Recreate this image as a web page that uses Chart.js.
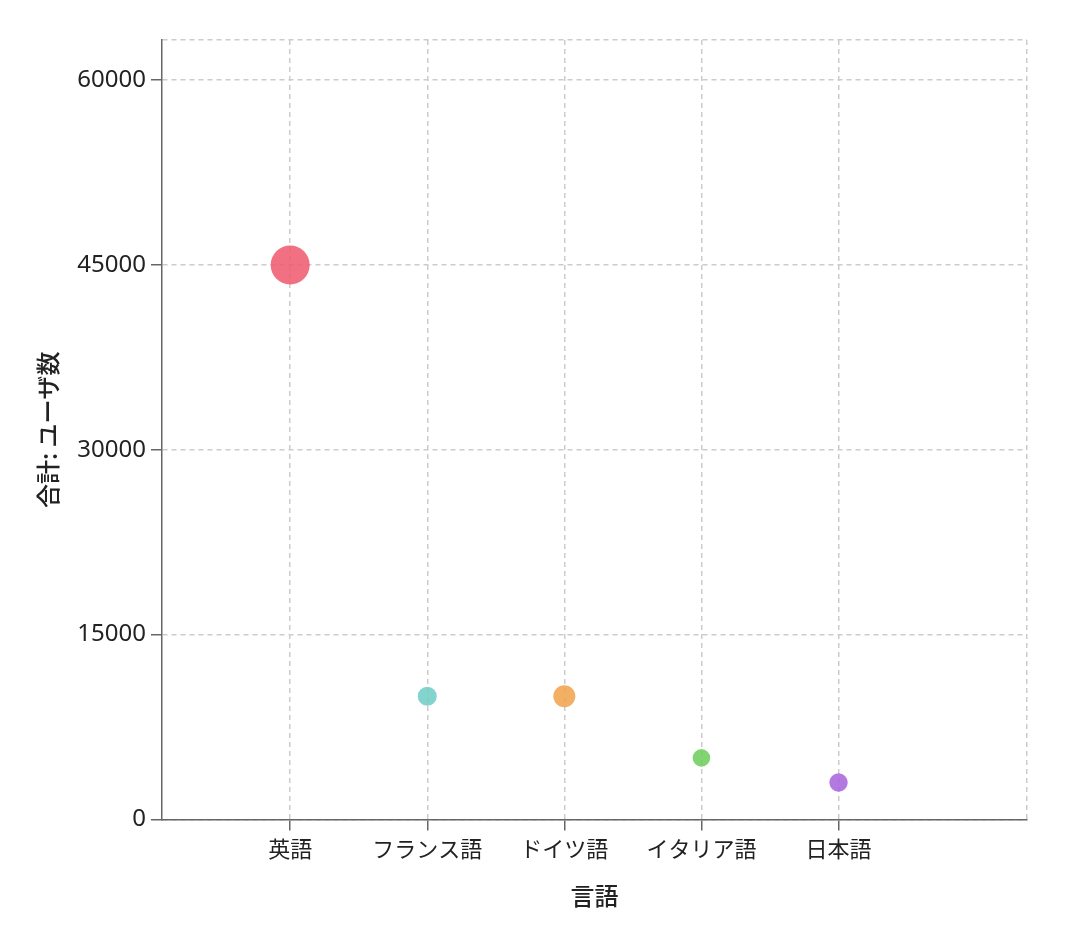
<!DOCTYPE html>
<html>
<head>
<meta charset="utf-8">
<script src="https://cdn.jsdelivr.net/npm/chart.js@4"></script>
<style>
  body { margin: 0; background: #fff; }
  #wrap { width: 1088px; height: 942px; }
</style>
</head>
<body>
<div id="wrap"><canvas id="myChart"></canvas></div>
<script>
// categories and values
const languages = ['英語', 'フランス語', 'ドイツ語', 'イタリア語', '日本語'];
const userTotals = [45000, 10000, 10000, 5000, 3000];
const bubbleRadius = [19.5, 9.5, 11, 8.8, 9.2];
const bubbleColors = [
    'rgba(238, 88, 108, 0.85)',
    'rgba(108, 205, 196, 0.85)',
    'rgba(241, 161, 73, 0.85)',
    'rgba(108, 205, 90, 0.85)',
    'rgba(167, 96, 220, 0.85)'
];
const yTicks = [0, 15000, 30000, 45000, 60000];
const yMax = 63250;
const xMin = 0.065;
const xMax = 6.375;

const cjk = '"Noto Sans CJK JP", "Noto Sans", sans-serif';
const xTickFont = { family: cjk, size: 22 };
const yTickFont = { family: '"Noto Sans", sans-serif', size: 24 };
const titleFont = { family: cjk, size: 24, weight: '500' };

const points = languages.map((name, i) => ({ x: i + 1, y: userTotals[i], r: bubbleRadius[i] }));

const ctx = document.getElementById('myChart').getContext('2d');

const myChart = new Chart(ctx, {
    type: 'bubble',
    data: {
        datasets: [{
            label: '合計: ユーザ数',
            data: points,
            backgroundColor: bubbleColors,
            borderWidth: 0,
            hoverBorderWidth: 0
        }]
    },
    options: {
        responsive: true,
        maintainAspectRatio: false,
        animation: false,
        layout: { padding: { left: 0, top: 40, right: 61, bottom: 0 } },
        plugins: {
            legend: { display: false },
            tooltip: { enabled: false }
        },
        scales: {
            x: {
                type: 'linear',
                min: xMin,
                max: xMax,
                afterBuildTicks: (axis) => {
                    axis.ticks = languages.map((n, i) => ({ value: i + 1 })).concat([{ value: xMax }]);
                },
                afterFit: (axis) => { axis.height = 122.5; },
                ticks: {
                    autoSkip: false,
                    maxRotation: 0,
                    padding: 5,
                    color: '#222',
                    font: xTickFont,
                    callback: (v) => languages[v - 1] || ''
                },
                grid: {
                    color: '#cccccc',
                    lineWidth: 1.5,
                    tickLength: 11,
                    tickColor: (c) => c.tick && c.tick.value === xMax ? 'rgba(0,0,0,0)' : '#666',
                    tickWidth: 1.5
                },
                border: { color: '#666', width: 1.5, dash: [5, 4] },
                title: {
                    display: true,
                    text: '言語',
                    color: '#222',
                    font: titleFont,
                    padding: { top: 0, bottom: 32 }
                }
            },
            y: {
                min: 0,
                max: yMax,
                afterBuildTicks: (axis) => {
                    axis.ticks = yTicks.map(v => ({ value: v })).concat([{ value: yMax }]);
                },
                afterFit: (axis) => { axis.width = 162; },
                ticks: {
                    padding: 5,
                    color: '#222',
                    font: yTickFont,
                    callback: (v) => v === yMax ? '' : String(v)
                },
                grid: {
                    color: '#cccccc',
                    lineWidth: 1.5,
                    tickLength: 11,
                    tickColor: (c) => c.tick && c.tick.value === yMax ? 'rgba(0,0,0,0)' : '#666',
                    tickWidth: 1.5
                },
                border: { color: '#666', width: 1.5, dash: [5, 4] },
                title: {
                    display: true,
                    text: '合計: ユーザ数',
                    color: '#222',
                    font: titleFont,
                    padding: { top: 33, bottom: 0 }
                }
            }
        }
    }
});
</script>
</body>
</html>
